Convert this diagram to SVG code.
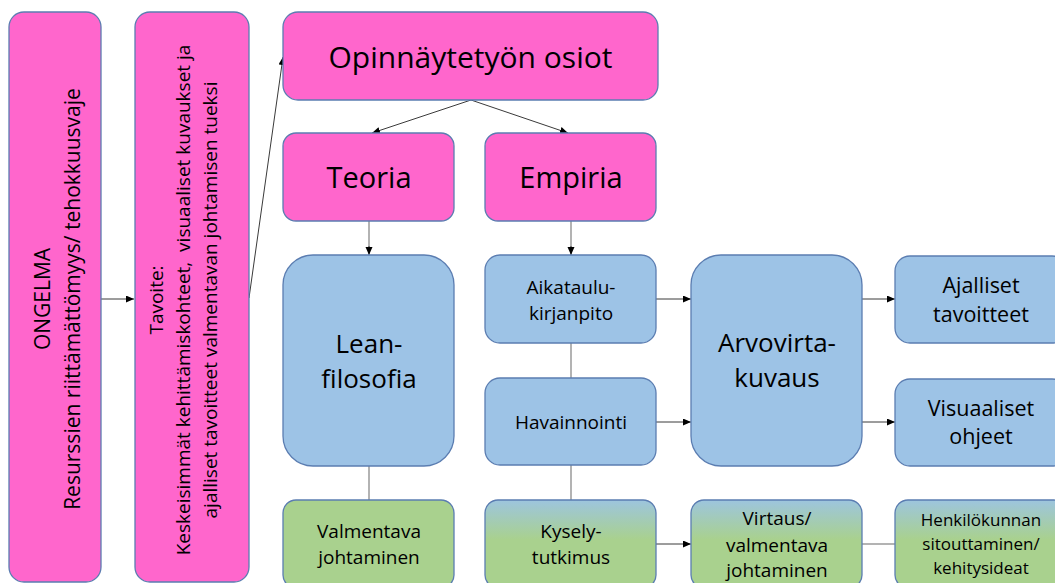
<svg xmlns="http://www.w3.org/2000/svg" width="1055" height="583" viewBox="0 0 1055 583">
<style>
.pink{fill:#FF66CC;stroke:#5B7DB1;stroke-width:1.3}
.blue{fill:#9DC3E6;stroke:#5B7DB1;stroke-width:1.3}
.green{fill:#A9D18E;stroke:#5B7DB1;stroke-width:1.3}
.grad{fill:url(#bg);stroke:#5B7DB1;stroke-width:1.3}
text{font-family:"Open Sans","Liberation Sans",sans-serif;fill:#000;text-anchor:middle}
.arr{stroke:#3a3a3a;stroke-width:1;fill:none;marker-end:url(#ah)}
.ln{stroke:#9a9a9a;stroke-width:1.5;fill:none}
</style>
<defs>
<marker id="ah" markerUnits="userSpaceOnUse" markerWidth="9" markerHeight="8" refX="8" refY="3.5" orient="auto">
<path d="M0,0 L8,3.5 L0,7 z" fill="#000"/>
</marker>
<linearGradient id="bg" x1="0" y1="0" x2="0" y2="1">
<stop offset="0" stop-color="#9DC5DE"/>
<stop offset="0.45" stop-color="#A9D18E"/>
<stop offset="1" stop-color="#A9D18E"/>
</linearGradient>
</defs>

<g id="connectors">
<line class="arr" x1="101" y1="299" x2="134" y2="299"/>
<line class="arr" x1="249" y1="298" x2="283" y2="57"/>
<line class="arr" x1="471" y1="100" x2="372" y2="133"/>
<line class="arr" x1="471" y1="100" x2="568" y2="133"/>
<line class="ln" x1="369" y1="221" x2="369" y2="248"/>
<line class="arr" x1="369" y1="246" x2="369" y2="255"/>
<line class="ln" x1="571" y1="221" x2="571" y2="248"/>
<line class="arr" x1="571" y1="246" x2="571" y2="255"/>
<line class="ln" x1="369" y1="466" x2="369" y2="500"/>
<line class="ln" x1="571" y1="343" x2="571" y2="378"/>
<line class="ln" x1="571" y1="465" x2="571" y2="500"/>
<line class="arr" x1="656" y1="299" x2="691" y2="299"/>
<line class="arr" x1="656" y1="422" x2="691" y2="422"/>
<line class="arr" x1="862" y1="299" x2="895" y2="299"/>
<line class="arr" x1="862" y1="422" x2="895" y2="422"/>
<line class="arr" x1="656" y1="544" x2="691" y2="544"/>
<line class="ln" x1="862" y1="544" x2="895" y2="544"/>
</g>

<g id="ongelma">
<rect class="pink" x="9" y="12" width="92" height="570" rx="15"/>
<g transform="translate(55,299) rotate(-90)">
<text x="0" y="-5" font-size="21">ONGELMA</text>
<text x="0" y="25" font-size="21">Resurssien riittämättömyys/ tehokkuusvaje</text>
</g>
</g>

<g id="tavoite">
<rect class="pink" x="135" y="12" width="114" height="570" rx="15"/>
<g transform="translate(192,300) rotate(-90)">
<text x="0" y="-29" font-size="19">Tavoite:</text>
<text x="0" y="-2" font-size="19" xml:space="preserve">Keskeisimmät kehittämiskohteet,  visuaaliset kuvaukset ja</text>
<text x="0" y="25" font-size="19">ajalliset tavoitteet valmentavan johtamisen tueksi</text>
</g>
</g>

<g id="osiot">
<rect class="pink" x="283" y="12" width="375" height="88" rx="15"/>
<text x="470.5" y="68" font-size="30">Opinnäytetyön osiot</text>
</g>

<g id="teoria">
<rect class="pink" x="283" y="133" width="171" height="88" rx="13"/>
<text x="369" y="188" font-size="29">Teoria</text>
</g>

<g id="empiria">
<rect class="pink" x="485" y="133" width="171" height="88" rx="13"/>
<text x="571" y="188" font-size="29">Empiria</text>
</g>

<g id="lean">
<rect class="blue" x="283" y="255" width="171" height="211" rx="30"/>
<text x="369" y="353" font-size="26">Lean-</text>
<text x="369" y="388" font-size="26">filosofia</text>
</g>

<g id="aikataulu">
<rect class="blue" x="485" y="255" width="171" height="88" rx="15"/>
<text x="571" y="294" font-size="19">Aikataulu-</text>
<text x="571" y="320" font-size="19">kirjanpito</text>
</g>

<g id="havainnointi">
<rect class="blue" x="485" y="378" width="171" height="87" rx="15"/>
<text x="571" y="429" font-size="19">Havainnointi</text>
</g>

<g id="arvovirta">
<rect class="blue" x="691" y="255" width="171" height="211" rx="30"/>
<text x="777" y="352" font-size="26">Arvovirta-</text>
<text x="777" y="387" font-size="26">kuvaus</text>
</g>

<g id="ajalliset">
<rect class="blue" x="895" y="256" width="172" height="87" rx="15"/>
<text x="981" y="293" font-size="21.5">Ajalliset</text>
<text x="981" y="322" font-size="21.5">tavoitteet</text>
</g>

<g id="visuaaliset">
<rect class="blue" x="895" y="379" width="172" height="87" rx="15"/>
<text x="981" y="416" font-size="21.5">Visuaaliset</text>
<text x="981" y="444" font-size="21.5">ohjeet</text>
</g>

<g id="valmentava">
<rect class="green" x="283" y="500" width="171" height="88" rx="13"/>
<text x="369" y="538" font-size="19">Valmentava</text>
<text x="369" y="564" font-size="19">johtaminen</text>
</g>

<g id="kysely">
<rect class="grad" x="485" y="500" width="171" height="88" rx="13"/>
<text x="571" y="538" font-size="19">Kysely-</text>
<text x="571" y="564" font-size="19">tutkimus</text>
</g>

<g id="virtaus">
<rect class="grad" x="691" y="500" width="171" height="88" rx="13"/>
<text x="777" y="525" font-size="19">Virtaus/</text>
<text x="777" y="552" font-size="19">valmentava</text>
<text x="777" y="577" font-size="19">johtaminen</text>
</g>

<g id="henkilokunta">
<rect class="grad" x="895" y="500" width="172" height="88" rx="13"/>
<text x="981" y="526" font-size="17">Henkilökunnan</text>
<text x="981" y="550" font-size="17">sitouttaminen/</text>
<text x="981" y="574" font-size="17">kehitysideat</text>
</g>
</svg>
